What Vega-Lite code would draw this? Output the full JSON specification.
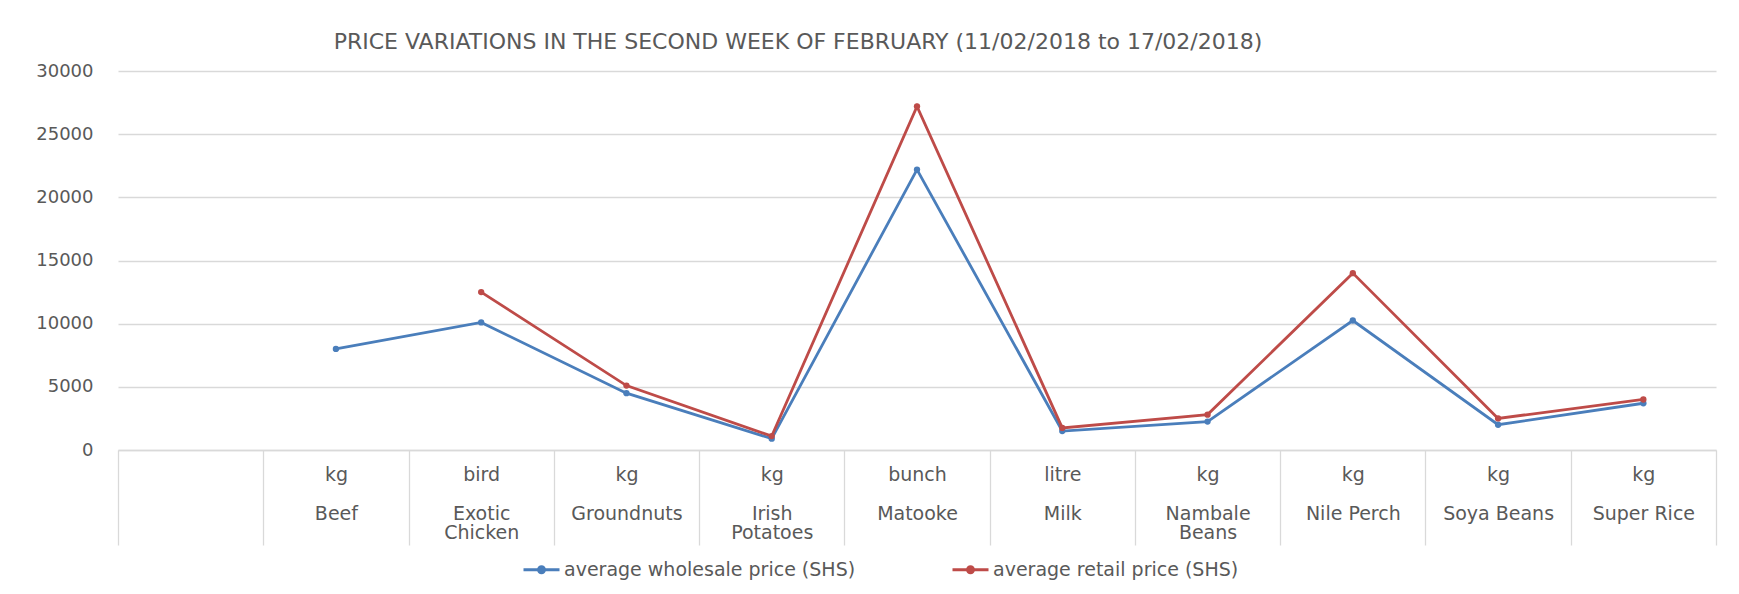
{
  "$schema": "https://vega.github.io/schema/vega-lite/v6.json",
  "autosize": "none",
  "width": 1598,
  "height": 379,
  "padding": {"left": 118, "top": 71, "right": 23, "bottom": 144},
  "background": "white",
  "title": {
    "text": "PRICE VARIATIONS IN THE SECOND WEEK OF FEBRUARY (11/02/2018 to 17/02/2018)",
    "font": "DejaVu Sans",
    "fontSize": 22,
    "fontWeight": "normal",
    "color": "#595959",
    "anchor": "middle",
    "frame": "group",
    "dx": -119,
    "offset": 8
  },
  "data": {
    "values": [
      {"commodity": "Beef", "unit": "kg", "average wholesale price (SHS)": 8000, "average retail price (SHS)": null},
      {"commodity": "Exotic Chicken", "unit": "bird", "average wholesale price (SHS)": 10100, "average retail price (SHS)": 12500},
      {"commodity": "Groundnuts", "unit": "kg", "average wholesale price (SHS)": 4500, "average retail price (SHS)": 5100},
      {"commodity": "Irish Potatoes", "unit": "kg", "average wholesale price (SHS)": 900, "average retail price (SHS)": 1100},
      {"commodity": "Matooke", "unit": "bunch", "average wholesale price (SHS)": 22200, "average retail price (SHS)": 27200},
      {"commodity": "Milk", "unit": "litre", "average wholesale price (SHS)": 1500, "average retail price (SHS)": 1750},
      {"commodity": "Nambale Beans", "unit": "kg", "average wholesale price (SHS)": 2250, "average retail price (SHS)": 2800},
      {"commodity": "Nile Perch", "unit": "kg", "average wholesale price (SHS)": 10250, "average retail price (SHS)": 14000},
      {"commodity": "Soya Beans", "unit": "kg", "average wholesale price (SHS)": 2000, "average retail price (SHS)": 2500},
      {"commodity": "Super Rice", "unit": "kg", "average wholesale price (SHS)": 3700, "average retail price (SHS)": 4000}
    ]
  },
  "transform": [
    {"fold": ["average wholesale price (SHS)", "average retail price (SHS)"], "as": ["series", "price"]}
  ],
  "mark": {
    "type": "line",
    "strokeWidth": 2.8,
    "point": {"filled": true, "size": 40}
  },
  "encoding": {
    "x": {
      "field": "commodity",
      "type": "nominal",
      "sort": null,
      "scale": {
        "type": "band",
        "domain": ["", "Beef", "Exotic Chicken", "Groundnuts", "Irish Potatoes", "Matooke", "Milk", "Nambale Beans", "Nile Perch", "Soya Beans", "Super Rice"],
        "paddingInner": 0,
        "paddingOuter": 0
      },
      "axis": {
        "title": null,
        "grid": false,
        "domain": true,
        "domainColor": "#d9d9d9",
        "domainWidth": 1.3,
        "ticks": true,
        "tickBand": "extent",
        "tickSize": 95,
        "tickColor": "#d9d9d9",
        "tickWidth": 1.3,
        "labelPadding": -80,
        "labelAngle": 0,
        "labelAlign": "center",
        "labelBaseline": "top",
        "labelFont": "DejaVu Sans",
        "labelFontSize": 19,
        "labelColor": "#595959",
        "labelLineHeight": 19.5,
        "labelOverlap": false,
        "labelLimit": 200,
        "labelExpr": "({'Beef':['kg','\u200b','Beef'],'Exotic Chicken':['bird','\u200b','Exotic','Chicken'],'Groundnuts':['kg','\u200b','Groundnuts'],'Irish Potatoes':['kg','\u200b','Irish','Potatoes'],'Matooke':['bunch','\u200b','Matooke'],'Milk':['litre','\u200b','Milk'],'Nambale Beans':['kg','\u200b','Nambale','Beans'],'Nile Perch':['kg','\u200b','Nile Perch'],'Soya Beans':['kg','\u200b','Soya Beans'],'Super Rice':['kg','\u200b','Super Rice']})[datum.label] || ''"
      }
    },
    "y": {
      "field": "price",
      "type": "quantitative",
      "scale": {"domain": [0, 30000], "nice": false, "zero": true},
      "axis": {
        "title": null,
        "values": [0, 5000, 10000, 15000, 20000, 25000, 30000],
        "format": "d",
        "grid": true,
        "gridColor": "#d9d9d9",
        "gridWidth": 1.3,
        "domain": false,
        "ticks": false,
        "labelPadding": 25,
        "labelFont": "DejaVu Sans",
        "labelFontSize": 18,
        "labelColor": "#595959"
      }
    },
    "color": {
      "field": "series",
      "type": "nominal",
      "scale": {
        "domain": ["average wholesale price (SHS)", "average retail price (SHS)"],
        "range": ["#4a7ebb", "#be4b48"]
      },
      "legend": {
        "title": null,
        "orient": "none",
        "direction": "horizontal",
        "legendX": 404,
        "legendY": 479,
        "padding": 0,
        "symbolType": "M-1,0L1,0M-0.17,0A0.17,0.17,0,1,0,0.17,0A0.17,0.17,0,1,0,-0.17,0Z",
        "symbolSize": 1296,
        "symbolStrokeWidth": 2.8,
        "labelOffset": 3,
        "columnPadding": 90,
        "labelFont": "DejaVu Sans",
        "labelFontSize": 19,
        "labelColor": "#595959",
        "labelLimit": 400,
        "encode": {
          "symbols": {
            "update": {
              "fill": {"scale": "color", "field": "value"},
              "stroke": {"scale": "color", "field": "value"},
              "opacity": {"value": 1}
            }
          }
        }
      }
    }
  },
  "config": {
    "view": {"stroke": null}
  }
}
